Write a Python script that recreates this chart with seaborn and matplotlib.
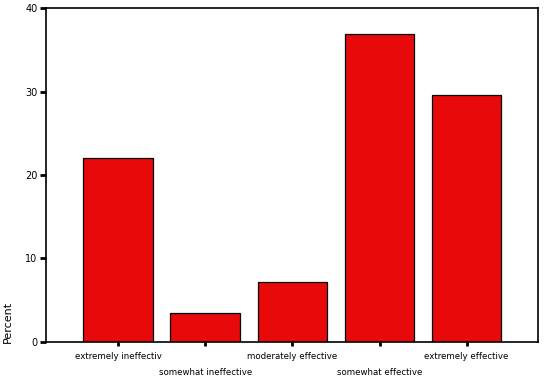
import matplotlib
matplotlib.use("Agg")
import matplotlib.pyplot as plt
import seaborn as sns
import pandas as pd

categories = ["extremely ineffectiv", "somewhat ineffective", "moderately effective",
              "somewhat effective", "extremely effective"]
percent = [22.0, 3.5, 7.2, 36.9, 29.6]

df = pd.DataFrame({"cat": categories, "pct": percent})

sns.set_style("ticks")
plt.rcParams["font.family"] = ["DejaVu Sans"]
plt.rcParams["text.color"] = "black"
plt.rcParams["axes.labelcolor"] = "black"
plt.rcParams["xtick.color"] = "black"
plt.rcParams["ytick.color"] = "black"

fig = plt.figure(figsize=(5.53, 3.88), dpi=100)
ax = fig.add_axes([0.083, 0.119, 0.89, 0.86])
sns.barplot(data=df, x="cat", y="pct", color="#E80A0A", saturation=1,
            edgecolor="black", linewidth=0.9, width=0.8, ax=ax)

ax.set_xlim(-0.83, 4.82)
ax.set_ylim(0, 40)
ax.set_yticks([0, 10, 20, 30, 40])
ax.set_xticks(range(len(categories)))
# staggered labels, odd ones pushed down a line
ax.set_xticklabels([c if i % 2 == 0 else "\n" + c for i, c in enumerate(categories)],
                   fontsize=6.2)
plt.setp(ax.get_xticklabels(), linespacing=2.0)
ax.tick_params(axis="y", labelsize=7, length=4, width=2, pad=2)
ax.tick_params(axis="x", length=3, width=2, pad=4)
ax.set_xlabel("")
ax.set_ylabel("Percent", fontsize=8, labelpad=4)
ax.yaxis.set_label_coords(-0.068, 0.06)
for s in ax.spines.values():
    s.set_visible(True)
    s.set_color("black")
    s.set_linewidth(1.2)

fig.savefig("out.png", dpi=100)
